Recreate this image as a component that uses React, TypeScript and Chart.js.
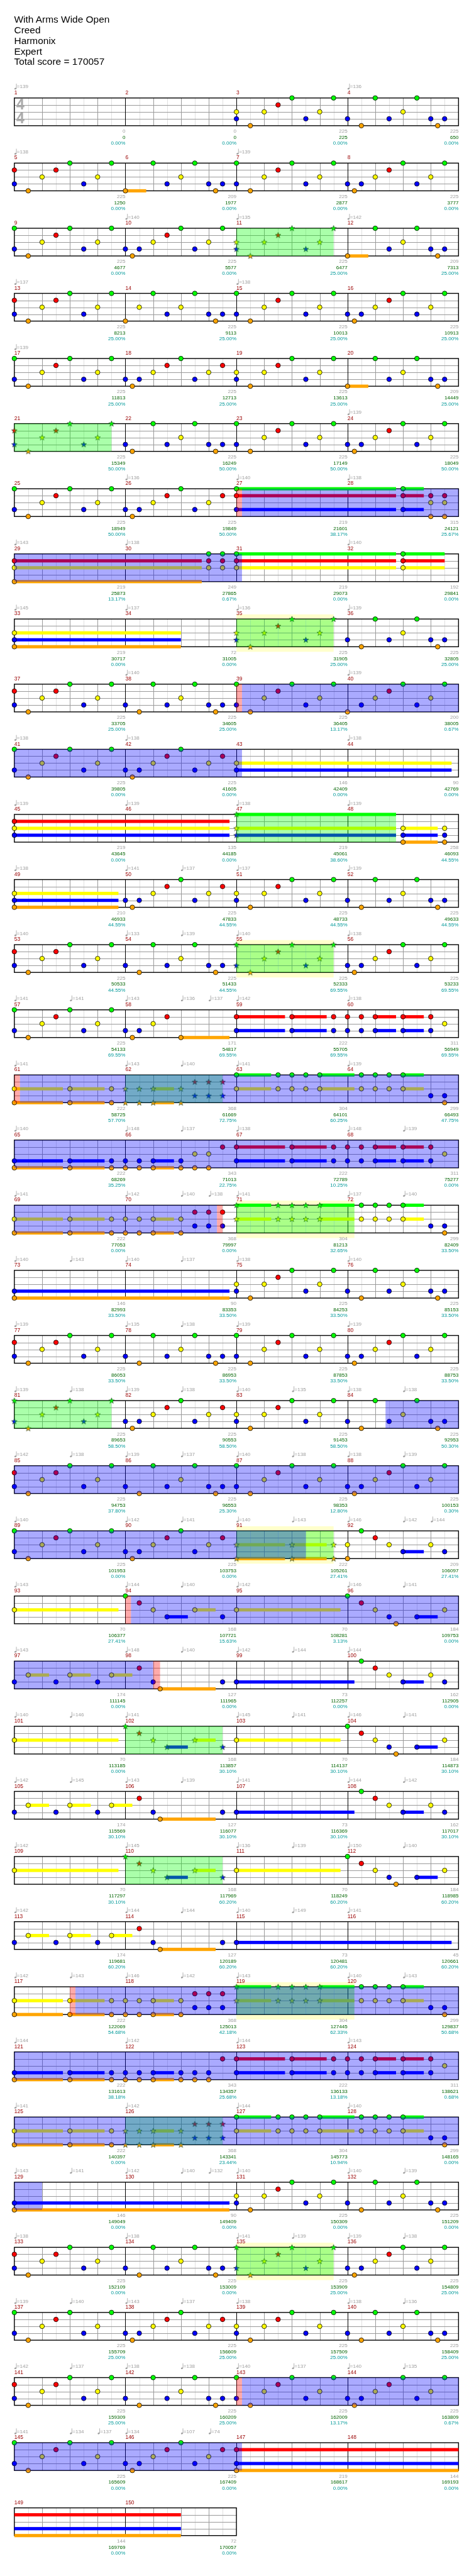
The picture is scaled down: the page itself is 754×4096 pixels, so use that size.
import React, { useEffect, useRef } from "react";
import { Chart, registerables } from "chart.js";
Chart.register(...registerables);

const S = 0.736;
const W = 754;
const H = 4096;
const FULL_H = 5563;
const LANE_PX = 15; // full-size px between lanes
const ROW_U = 141 / LANE_PX; // row pitch in lane units
const TOP0 = 205.3 / LANE_PX; // first staff top in lane units
const LANE_KEYS = "GRYBO";
const LANE_COLORS = ["#00ff00", "#ff0000", "#ffff00", "#0000ff", "#ffa500"];

const TITLE_LINES = ["With Arms Wide Open", "Creed", "Harmonix", "Expert", "Total score = 170057"];

// riffs (positions in 16ths, lanes, optional sustain length in 16ths)
const A = "0RB 2O 4Y 6R 8G 10B 12Y 14G";
const AG = "0GB 2O 4Y 6R 8G 10B 12Y 14G";
const AY = "0YB 2O 4Y 6R 8G 10B 12Y 14G";
const B1 = "0O3 4G 6B 8Y 10G 12B 13O 14B";
const B3 = "0B 2O 4G 6B 8Y 10G 12B 13O 14B";
const C1 = "0B 1O 2B 4Y 6R 8G 10B 12Y 14G";
const C2 = "0B 1O 2B 4Y 6R 8G 10B 12Y 14R";
const H1 = "0YO7 8YO5 14YO";
const H2 = "0YO 2YO 4YO3 8YO 10RB 12RB 14RB";
const H3 = "0GY5 6GY 8GY 10GY 12GY5";
const H4 = "2GY 4GY 6GY 8GY3 12B 14BO";
const K1 = "0RB7 8RB5 14RB";
const K2 = "0RB 2RB 4RB3 8RB3 12RB 14Y";
const S1 = "0Y15";
const S2 = "0G 2R 4Y 6B3 10Y3 14B";
const S3 = "0G 2R 4Y 6B 7O 10B3 14Y";
const S4 = "0B 2Y3 6B 8Y3 12B 14Y3";
const S5 = "2R 4B 5O8 14B";
const S6 = "0B17";
const S7 = "2G 4R 6Y 8B3 12Y 14B";

const MEASURES: string[] = [
  "", "", AY, B3,
  A, B1, AG, C1,
  AG, C1, AY, B1,
  A, "0O 2Y 4G 6B 8Y 10G 12B 13O 14B", AG, C1,
  AG, C2, AY, B1,
  A, "0B 1O 4G 6B 8Y 10G 12B 13O 14B", AG, C1,
  AG, C2, "0GRB23", "8GRB3 12RYO 14RYO",
  "0RYO27", "12GRY 14GRY", "0GRY23", "8GRY6",
  "0YBO24", "", AY, B3,
  A, B3, AG, "0O 2B 4Y 6R 8G 10B 12Y 14G",
  AG, C2, "0YB31", "",
  "0RYB31", "", "0GYB23", "8YBO5 14YBO",
  "0YBO15", C2, AY, B3,
  A, B3, AG, C1,
  AG, "0B 1O 2B 4Y 6R 8O7", K1, K2,
  H1, H2, H3, H4,
  "0BO7 8BO5 14BO", "0BO 2BO 4BO3 8BO 10YO 12YO 14R", K1, K2,
  H1, H2, H3, H4,
  "0BO31", "", AY, B3,
  A, B3, AG, C1,
  AG, C2, AY, B3,
  A, B3, AG, C1,
  AG, C2, H1, "0YO 2G 4R 6Y 8B3 12Y 14B",
  S1, S2, S1, S3,
  S4, S5, S6, S7,
  S1, S2, S1, S3,
  S4, S5, S6, S7,
  S1, S2, S1, S3,
  S4, S5, "0B31", "",
  H1, H2, H3, H4,
  "0BO7 8BO5 14BO", "0BO 2BO 4BO3 8BO 10BO 12BO 14R", K1, K2,
  H1, H2, H3, H4,
  "0BO31", "", AY, B3,
  A, B3, AG, C1,
  AG, C2, AY, B3,
  A, B3, AG, C1,
  AG, C2, "0RBO56", "",
  "", "",
];

const MEASURE_SCORES = [
  0, 0, 225, 225, 225, 209, 225, 225, 225, 225, 225, 209, 225, 225, 225, 225,
  225, 225, 225, 209, 225, 225, 225, 225, 225, 225, 219, 315, 219, 249, 219, 192,
  219, 72, 225, 225, 225, 225, 225, 200, 225, 225, 146, 90, 219, 135, 219, 258,
  210, 225, 225, 225, 225, 225, 225, 225, 225, 171, 222, 311, 222, 368, 304, 299,
  222, 343, 222, 311, 222, 368, 304, 299, 146, 90, 225, 225, 225, 225, 225, 225,
  225, 225, 225, 225, 225, 225, 225, 225, 225, 225, 222, 209, 70, 168, 70, 184,
  174, 127, 73, 162, 70, 168, 70, 184, 174, 127, 73, 162, 70, 168, 70, 184,
  174, 127, 73, 45, 222, 368, 304, 299, 222, 343, 222, 311, 222, 368, 304, 299,
  146, 90, 225, 225, 225, 225, 225, 225, 225, 225, 225, 225, 225, 225, 225, 225,
  225, 225, 219, 144, 144, 72,
];

const TOTALS = [
  0, 0, 225, 650, 1250, 1977, 2877, 3777, 4677, 5577, 6477, 7313, 8213, 9113, 10013, 10913,
  11813, 12713, 13613, 14449, 15349, 16249, 17149, 18049, 18949, 19849, 21601, 24121,
  25873, 27865, 29073, 29841, 30717, 31005, 31905, 32805, 33705, 34605, 36405, 38005,
  39805, 41605, 42409, 42769, 43645, 44185, 45061, 46093, 46933, 47833, 48733, 49633,
  50533, 51433, 52333, 53233, 54133, 54817, 55705, 56949, 58725, 61669, 64101, 66493,
  68269, 71013, 72789, 75277, 77053, 79997, 81213, 82409, 82993, 83353, 84253, 85153,
  86053, 86953, 87853, 88753, 89653, 90553, 91453, 92953, 94753, 96553, 98353, 100153,
  101953, 103753, 105261, 106097, 106377, 107721, 108281, 109753, 111145, 111965, 112257, 112905,
  113185, 113857, 114137, 114873, 115569, 116077, 116369, 117017, 117297, 117969, 118249, 118985,
  119681, 120189, 120481, 120661, 122069, 125013, 127445, 129837, 131613, 134357, 136133, 138621,
  140397, 143341, 145773, 148165, 149049, 149409, 150309, 151209, 152109, 153009, 153909, 154809,
  155709, 156609, 157509, 158409, 159309, 160209, 162009, 163809, 165609, 167409, 168617, 169193,
  169769, 170057,
];

const PERCENTS = [
  "0.00", "0.00", "0.00", "0.00", "0.00", "0.00", "0.00", "0.00",
  "0.00", "0.00", "25.00", "25.00", "25.00", "25.00", "25.00", "25.00",
  "25.00", "25.00", "25.00", "25.00", "50.00", "50.00", "50.00", "50.00",
  "50.00", "50.00", "38.17", "25.67", "13.17", "0.67", "0.00", "0.00",
  "0.00", "0.00", "25.00", "25.00", "25.00", "25.00", "13.17", "0.67",
  "0.00", "0.00", "0.00", "0.00", "0.00", "0.00", "38.60", "44.55",
  "44.55", "44.55", "44.55", "44.55", "44.55", "44.55", "69.55", "69.55",
  "69.55", "69.55", "69.55", "69.55", "57.70", "72.75", "60.25", "47.75",
  "35.25", "22.75", "10.25", "0.00", "0.00", "0.00", "32.65", "33.50",
  "33.50", "33.50", "33.50", "33.50", "33.50", "33.50", "33.50", "33.50",
  "58.50", "58.50", "58.50", "50.30", "37.80", "25.30", "12.80", "0.30",
  "0.00", "0.00", "27.41", "27.41", "27.41", "15.63", "3.13", "0.00",
  "0.00", "0.00", "0.00", "0.00", "0.00", "30.10", "30.10", "30.10",
  "30.10", "30.10", "30.10", "30.10", "30.10", "60.20", "60.20", "60.20",
  "60.20", "60.20", "60.20", "60.20", "54.68", "42.18", "62.33", "50.68",
  "38.18", "25.68", "13.18", "0.68", "0.00", "23.44", "10.94", "0.00",
  "0.00", "0.00", "0.00", "0.00", "0.00", "0.00", "25.00", "25.00",
  "25.00", "25.00", "25.00", "25.00", "25.00", "25.00", "13.17", "0.67",
  "0.00", "0.00", "0.00", "0.00", "0.00", "0.00",
];

// [measure, beat within measure, bpm]
const TEMPOS: [number, number, number][] = [
  [1, 0, 139], [4, 0, 136], [5, 0, 138], [7, 0, 139], [10, 0, 140], [11, 0, 135], [12, 0, 142],
  [13, 0, 137], [15, 0, 138], [17, 0, 139], [24, 0, 139], [26, 0, 136], [27, 0, 140], [28, 0, 138],
  [29, 0, 143], [30, 0, 138], [32, 0, 140], [33, 0, 145], [34, 0, 137], [35, 0, 136], [36, 0, 139],
  [38, 0, 140], [40, 0, 139], [41, 0, 138], [42, 0, 138], [44, 0, 138],
  [45, 0, 139], [46, 0, 139], [47, 0, 138], [48, 0, 139],
  [49, 0, 138], [50, 0, 141], [50, 2, 137], [51, 0, 137], [52, 0, 139],
  [53, 0, 140], [54, 0, 133], [54, 2, 139], [55, 0, 140], [56, 0, 138],
  [57, 0, 141], [57, 2, 141], [58, 0, 143], [58, 2, 136], [58, 3, 137], [59, 0, 142], [60, 0, 138],
  [61, 0, 141], [62, 0, 143], [62, 2, 140], [63, 0, 141], [64, 0, 139],
  [65, 0, 140], [66, 0, 148], [66, 2, 137], [67, 0, 138], [68, 0, 148], [68, 2, 139],
  [69, 0, 141], [70, 0, 142], [70, 2, 140], [70, 3, 138], [71, 0, 141], [72, 0, 137], [72, 2, 140],
  [73, 0, 140], [73, 2, 143], [74, 0, 140], [74, 2, 137], [75, 0, 138], [76, 0, 140],
  [77, 0, 139], [78, 0, 135], [78, 2, 138], [79, 0, 139], [80, 0, 139],
  [81, 0, 139], [81, 2, 138], [82, 0, 139], [82, 2, 138], [83, 0, 140], [83, 2, 135], [84, 0, 138], [84, 2, 138],
  [85, 0, 142], [85, 2, 138], [86, 0, 139], [86, 2, 137], [87, 0, 140], [87, 2, 138], [88, 0, 138], [88, 2, 139],
  [89, 0, 140], [90, 0, 142], [90, 2, 141], [91, 0, 140], [91, 2, 143], [92, 0, 146], [92, 2, 142], [92, 3, 144],
  [93, 0, 143], [94, 0, 144], [94, 2, 140], [95, 0, 142], [96, 0, 146], [96, 2, 141],
  [97, 0, 143], [98, 0, 148], [98, 2, 140], [99, 0, 142], [99, 2, 144], [100, 0, 144],
  [101, 0, 140], [101, 2, 146], [102, 0, 141], [103, 0, 145], [103, 2, 141], [104, 0, 146], [104, 2, 141],
  [105, 0, 142], [105, 2, 145], [106, 0, 143], [106, 2, 139], [107, 0, 141], [108, 0, 144], [108, 2, 142],
  [109, 0, 142], [110, 0, 145], [111, 0, 136], [111, 2, 139], [112, 0, 150], [112, 2, 140],
  [113, 0, 142], [114, 0, 144], [114, 2, 144], [115, 0, 140], [115, 2, 149], [116, 0, 141],
  [117, 0, 142], [117, 2, 143], [118, 0, 146], [118, 2, 142], [119, 0, 143], [120, 0, 140], [120, 2, 143],
  [121, 0, 144], [122, 0, 142], [123, 0, 144], [124, 0, 143],
  [125, 0, 141], [126, 0, 142], [127, 0, 144], [128, 0, 140],
  [129, 0, 143], [129, 2, 141], [130, 0, 142], [130, 2, 140], [130, 3, 132], [131, 0, 140], [132, 0, 140], [132, 2, 139],
  [133, 0, 138], [134, 0, 138], [135, 0, 141], [135, 2, 139], [136, 0, 139], [136, 2, 138],
  [137, 0, 139], [137, 2, 140], [138, 0, 143], [138, 2, 137], [139, 0, 138], [140, 0, 138], [140, 2, 136],
  [141, 0, 142], [141, 2, 137], [142, 0, 138], [142, 2, 138], [143, 0, 140], [143, 2, 137], [144, 0, 140], [144, 2, 135],
  [145, 0, 141], [145, 2, 134], [145, 3, 137], [146, 0, 134], [146, 2, 107], [146, 3, 74],
];

// regions in absolute beats
const SP_PHRASES: [number, number][] = [
  [40, 43.5], [80, 83.5], [136, 139.5], [184, 189.75], [216, 219.5], [244, 247.5], [280, 284.25],
  [320, 323.5], [360, 363.5], [404, 407.5], [436, 439.5], [472, 476.25], [500, 503.5], [536, 539.5],
];
const UNISON_BANDS: [number, number][] = [
  [136, 139.5], [216, 219.5], [280, 284.25], [360, 363.5], [472, 476.25], [536, 539.5],
];
const SP_ACTIVE: [number, number][] = [
  [104.2, 120.2], [152.2, 168.2], [240.2, 279.3], [333.37, 362.5], [372.2, 389], [466.2, 513], [568.2, 584.2],
];
const SP_MARKS: [number, number][] = [
  [104, 104.2], [152, 152.2], [240, 240.2], [279.3, 279.5], [372, 372.2], [389, 389.25], [466, 466.2], [568, 568.2],
];

const N_MEASURES = 150;
const N_ROWS = Math.ceil(N_MEASURES / 4);

function rowBeats(r: number) {
  return Math.min(16, (N_MEASURES - r * 4) * 4);
}

function eachRowSegment(a: number, b: number, fn: (row: number, s: number, e: number) => void) {
  let s = a;
  while (s < b - 1e-9) {
    const row = Math.floor(s / 16 + 1e-9);
    const e = Math.min(b, (row + 1) * 16);
    fn(row, s - row * 16, e - row * 16);
    s = e;
  }
}

type Pt = { x: number; y: number };
type Sus = { a: number; b: number; lane: number };

function buildNotes() {
  const circles: Pt[][] = [[], [], [], [], []];
  const stars: Pt[][] = [[], [], [], [], []];
  const sustains: Sus[] = [];
  MEASURES.forEach((str, i) => {
    if (!str) return;
    str.trim().split(/\s+/).forEach((tok) => {
      const m = tok.match(/^(\d+)([GRYBO]+)(\d+)?$/);
      if (!m) return;
      const pos = parseInt(m[1], 10);
      const len = m[3] ? parseInt(m[3], 10) : 0;
      const abs = i * 4 + pos / 4;
      const row = Math.floor(abs / 16 + 1e-9);
      const x = abs - row * 16;
      const isStar = SP_PHRASES.some(([a, b]) => abs >= a - 1e-6 && abs <= b + 1e-6);
      for (const ch of m[2]) {
        const lane = LANE_KEYS.indexOf(ch);
        (isStar ? stars : circles)[lane].push({ x, y: row * ROW_U + lane });
        if (len) sustains.push({ a: abs, b: abs + len / 4, lane });
      }
    });
  });
  return { circles, stars, sustains };
}

function makeStar(color: string) {
  const c = document.createElement("canvas");
  const size = 11;
  c.width = size;
  c.height = size;
  const g = c.getContext("2d")!;
  const cx = size / 2, cy = size / 2 + 0.3, R = 4.7, r = 1.9;
  g.beginPath();
  for (let k = 0; k < 10; k++) {
    const ang = -Math.PI / 2 + (k * Math.PI) / 5;
    const rad = k % 2 === 0 ? R : r;
    const px = cx + rad * Math.cos(ang), py = cy + rad * Math.sin(ang);
    if (k === 0) g.moveTo(px, py); else g.lineTo(px, py);
  }
  g.closePath();
  g.fillStyle = color;
  g.fill();
  g.strokeStyle = "#1a3a1a";
  g.lineWidth = 0.7;
  g.stroke();
  return c;
}

const FONT = '"Liberation Sans", Arial, sans-serif';

export default function App() {
  const ref = useRef<HTMLCanvasElement | null>(null);

  useEffect(() => {
    const canvas = ref.current;
    if (!canvas) return;
    const { circles, stars, sustains } = buildNotes();

    const plugin = {
      id: "ghchart",
      beforeDatasetsDraw(chart: any) {
        const ctx = chart.ctx as CanvasRenderingContext2D;
        const X = (v: number) => chart.scales.x.getPixelForValue(v);
        const Y = (v: number) => chart.scales.y.getPixelForValue(v);
        ctx.save();
        // unison bands (behind staff)
        ctx.fillStyle = "#ffffcc";
        UNISON_BANDS.forEach(([a, b]) =>
          eachRowSegment(a, b, (row, s, e) => {
            const y0 = Y(row * ROW_U - 0.67), y1 = Y(row * ROW_U + 4.73);
            ctx.fillRect(X(s), y0, X(e) - X(s), y1 - y0);
          })
        );
        for (let r = 0; r < N_ROWS; r++) {
          const nb = rowBeats(r);
          const yT = Y(r * ROW_U), yB = Y(r * ROW_U + 4);
          ctx.lineWidth = 1;
          ctx.strokeStyle = "#e0e0e0";
          ctx.beginPath();
          for (let k = 1; k < nb * 2; k += 2) {
            const x = Math.round(X(k * 0.5)) + 0.5;
            ctx.moveTo(x, yT); ctx.lineTo(x, yB);
          }
          ctx.stroke();
          ctx.strokeStyle = "#9a9a9a";
          ctx.beginPath();
          for (let b = 1; b < nb; b++) {
            if (b % 4 === 0) continue;
            const x = Math.round(X(b)) + 0.5;
            ctx.moveTo(x, yT); ctx.lineTo(x, yB);
          }
          for (let l = 1; l <= 3; l++) {
            const y = Math.round(Y(r * ROW_U + l)) + 0.5;
            ctx.moveTo(X(0), y); ctx.lineTo(X(nb), y);
          }
          ctx.stroke();
          ctx.strokeStyle = "#000";
          ctx.beginPath();
          for (let b = 4; b < nb; b += 4) {
            const x = Math.round(X(b)) + 0.5;
            ctx.moveTo(x, yT); ctx.lineTo(x, yB);
          }
          ctx.stroke();
          ctx.lineWidth = 1.4;
          ctx.strokeRect(X(0), yT, X(nb) - X(0), yB - yT);
        }
        // time signature
        ctx.fillStyle = "#aaaaaa";
        ctx.font = `bold ${32 * S}px ${FONT}`;
        ctx.textAlign = "left";
        ctx.textBaseline = "middle";
        ctx.fillText("4", X(0) + 4 * S, Y(1.05));
        ctx.fillText("4", X(0) + 4 * S, Y(3.05));
        // sustains
        const th = 7 * S;
        sustains.forEach((su) =>
          eachRowSegment(su.a, su.b, (row, s, e) => {
            const y = Y(row * ROW_U + su.lane);
            ctx.fillStyle = LANE_COLORS[su.lane];
            ctx.fillRect(X(s), y - th / 2, X(e) - X(s), th);
          })
        );
        ctx.restore();
      },
      afterDatasetsDraw(chart: any) {
        const ctx = chart.ctx as CanvasRenderingContext2D;
        const X = (v: number) => chart.scales.x.getPixelForValue(v);
        const Y = (v: number) => chart.scales.y.getPixelForValue(v);
        ctx.save();
        const overlay = (list: [number, number][], color: string) => {
          ctx.fillStyle = color;
          list.forEach(([a, b]) =>
            eachRowSegment(a, b, (row, s, e) => {
              const y0 = Y(row * ROW_U), y1 = Y(row * ROW_U + 4);
              ctx.fillRect(X(s), y0, X(e) - X(s), y1 - y0);
            })
          );
        };
        overlay(SP_PHRASES, "rgba(0,255,0,0.333)");
        overlay(SP_ACTIVE, "rgba(0,0,255,0.333)");
        overlay(SP_MARKS, "rgba(255,0,0,0.333)");

        // tempo markers
        TEMPOS.forEach(([m, beat, bpm]) => {
          const abs = (m - 1) * 4 + beat;
          const row = Math.floor(abs / 16);
          const x = X(abs - row * 16);
          const base = row * ROW_U;
          ctx.fillStyle = "#a0a0a0";
          ctx.strokeStyle = "#a0a0a0";
          ctx.lineWidth = 0.8;
          const hy = Y(base - 1.35);
          ctx.beginPath();
          ctx.ellipse(x + 2.3 * S, hy, 2.3 * S, 1.8 * S, -0.3, 0, Math.PI * 2);
          ctx.fill();
          ctx.beginPath();
          ctx.moveTo(x + 4.4 * S, hy);
          ctx.lineTo(x + 4.4 * S, Y(base - 2.07));
          ctx.stroke();
          ctx.font = `${11 * S}px ${FONT}`;
          ctx.textAlign = "left";
          ctx.textBaseline = "middle";
          ctx.fillText("=" + bpm, x + 5.5 * S, Y(base - 1.6));
        });

        // measure numbers and scores
        for (let i = 0; i < N_MEASURES; i++) {
          const row = Math.floor(i / 4);
          const base = row * ROW_U;
          const xs = X((i % 4) * 4);
          const xe = X((i % 4) * 4 + 4);
          ctx.textBaseline = "middle";
          ctx.font = `${11.5 * S}px ${FONT}`;
          ctx.textAlign = "left";
          ctx.fillStyle = "#990000";
          ctx.fillText(String(i + 1), xs, Y(base - 0.75));
          ctx.font = `${11 * S}px ${FONT}`;
          ctx.textAlign = "right";
          ctx.fillStyle = "#a0a0a0";
          ctx.fillText(String(MEASURE_SCORES[i]), xe, Y(base + 4.83));
          ctx.fillStyle = "#006400";
          ctx.fillText(String(TOTALS[i]), xe, Y(base + 5.73));
          ctx.fillStyle = "#009999";
          ctx.fillText(PERCENTS[i] + "%", xe, Y(base + 6.56));
        }
        ctx.restore();
      },
    };

    const datasets: any[] = [];
    for (let l = 0; l < 5; l++) {
      datasets.push({
        label: "note-" + LANE_KEYS[l],
        data: circles[l],
        pointStyle: "circle",
        pointRadius: 5 * S,
        pointBorderWidth: 0.8,
        pointBorderColor: "#000",
        pointBackgroundColor: LANE_COLORS[l],
        clip: false,
      });
      datasets.push({
        label: "star-" + LANE_KEYS[l],
        data: stars[l],
        pointStyle: makeStar(LANE_COLORS[l]),
        pointRadius: 5 * S,
        clip: false,
      });
    }

    const chart = new Chart(canvas, {
      type: "scatter",
      data: { datasets },
      options: {
        animation: false,
        responsive: false,
        maintainAspectRatio: false,
        events: [],
        layout: { padding: { left: 31 * S, right: W - 991 * S, top: 0, bottom: 0 } },
        scales: {
          x: { type: "linear", min: 0, max: 16, display: false },
          y: {
            type: "linear",
            reverse: true,
            min: -TOP0,
            max: FULL_H / LANE_PX - TOP0,
            display: false,
          },
        },
        plugins: {
          legend: { display: false },
          tooltip: { enabled: false },
          title: { display: false },
        },
      },
      plugins: [plugin],
    } as any);
    return () => chart.destroy();
  }, []);

  return (
    <div style={{ position: "absolute", left: 0, top: 0, width: W, height: H, background: "#fff", overflow: "hidden" }}>
      <canvas ref={ref} width={W} height={H} style={{ display: "block", width: W, height: H }} />
      <div
        style={{
          position: "absolute",
          left: 22.5,
          top: 22.8,
          fontFamily: FONT,
          fontSize: 21 * S,
          lineHeight: `${23 * S}px`,
          color: "#000",
          whiteSpace: "pre",
        }}
      >
        {TITLE_LINES.map((t, i) => (
          <div key={i}>{t}</div>
        ))}
      </div>
    </div>
  );
}
